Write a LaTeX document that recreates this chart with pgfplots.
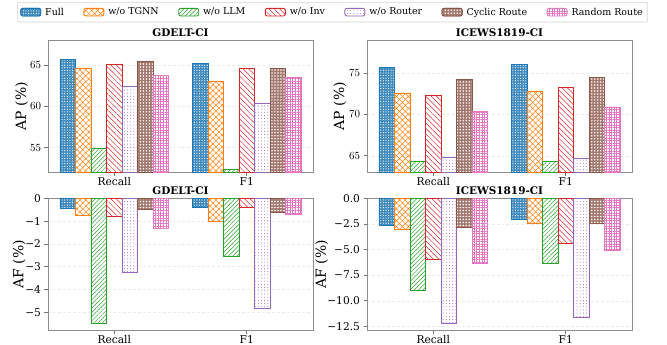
\documentclass[border=0pt]{standalone}
\usepackage{fontspec}
\setmainfont{DejaVu Serif}
\usepackage{pgfplots}
\pgfplotsset{compat=1.18}
\usetikzlibrary{patterns.meta}
\definecolor{tabblue}{HTML}{1F77B4}
\definecolor{taborange}{HTML}{FF7F0E}
\definecolor{tabgreen}{HTML}{2CA02C}
\definecolor{tabred}{HTML}{D62728}
\definecolor{tabpurple}{HTML}{9467BD}
\definecolor{tabbrown}{HTML}{8C564B}
\definecolor{tabpink}{HTML}{E377C2}
\pgfplotsset{
  sFull/.style={draw=tabblue, line width=0.9pt, fill=tabblue!85, postaction={pattern color=white, pattern={Dots[radius=0.6pt,distance=2.6pt]}}},
  sTGNN/.style={draw=taborange, line width=0.9pt, pattern color=taborange, pattern={Hatch[angle=45,distance=4.2pt,line width=0.5pt]}},
  sLLM/.style={draw=tabgreen, line width=0.9pt, pattern color=tabgreen, pattern={Lines[angle=45,distance=3pt,line width=0.5pt]}},
  sInv/.style={draw=tabred, line width=0.9pt, pattern color=tabred, pattern={Lines[angle=-45,distance=3.8pt,line width=0.5pt]}},
  sRouter/.style={draw=tabpurple, line width=0.9pt, pattern color=tabpurple, pattern={Dots[radius=0.5pt,distance=3.2pt]}},
  sCyclic/.style={draw=tabbrown, line width=0.9pt, fill=tabbrown!80, postaction={pattern color=white, pattern={Dots[radius=0.85pt,distance=3pt]}}},
  sRandom/.style={draw=tabpink, line width=0.9pt, pattern color=tabpink, pattern={Hatch[angle=0,distance=2.6pt,line width=0.45pt]}},
  panel/.style={
    scale only axis, width=265bp, height=132.3bp, anchor=north west,
    ybar, bar width=0.117, bar shift=0pt,
    xmin=-0.5, xmax=1.5, xtick={0,1}, xticklabels={Recall,F1},
    tick align=outside, tick pos=left, major tick length=3.5bp,
    every tick/.style={gray!90!black, line width=0.6pt},
    axis line style={gray!90, line width=0.8pt},
    ymajorgrids, major grid style={densely dashed, gray!15, line width=0.4pt},
    tick label style={font=\fontsize{10.7}{12}\selectfont},
    xticklabel style={yshift=1.5bp},
    title style={at={(axis description cs:0.5,1)}, anchor=base, yshift=-2.5bp, inner sep=0pt, font=\bfseries\fontsize{10.5}{12}\selectfont},
    legend image code/.code={\draw[#1] (0bp,-3.8bp) rectangle (20bp,3.8bp);},
    clip=true,
  },
  ylab/.style={every axis y label/.style={at={(axis description cs:#1,0.5)}, rotate=90, anchor=center, font=\fontsize{14}{16}\selectfont}},
}
\begin{document}
\begin{tikzpicture}
\useasboundingbox (0bp,0bp) rectangle (667bp,-345bp);
% Top-left
\begin{axis}[panel, at={(48bp,-40bp)}, title={GDELT-CI},
  ymin=52, ymax=68, ytick={55,60,65},
  ylabel={AP (\%)}, ylab=-0.099,
  legend columns=7,
  legend style={at={(axis description cs:1.0736,1.287)}, anchor=north, draw=gray!35, line width=0.6pt, rounded corners=2pt, font=\fontsize{9.5}{11}\selectfont, inner xsep=3bp, inner ysep=3.5bp, /tikz/every even column/.append style={column sep=17.5bp}, /tikz/every odd column/.append style={column sep=2bp}},
]
\addplot[sFull] coordinates {(-0.351,65.6) (0.649,65.16)};
\addplot[sTGNN] coordinates {(-0.234,64.5) (0.766,63.0)};
\addplot[sLLM] coordinates {(-0.117,54.85) (0.883,52.36)};
\addplot[sInv] coordinates {(0,65.1) (1,64.55)};
\addplot[sRouter] coordinates {(0.117,62.36) (1.117,60.37)};
\addplot[sCyclic] coordinates {(0.234,65.4) (1.234,64.55)};
\addplot[sRandom] coordinates {(0.351,63.74) (1.351,63.46)};
\legend{Full,w/o TGNN,w/o LLM,w/o Inv,w/o Router,Cyclic Route,Random Route}
\end{axis}
% Top-right
\begin{axis}[panel, at={(367bp,-40bp)}, title={ICEWS1819-CI},
  ymin=63, ymax=79, ytick={65,70,75},
  ylabel={AP (\%)}, ylab=-0.102,
]
\addplot[sFull] coordinates {(-0.351,75.65) (0.649,76.05)};
\addplot[sTGNN] coordinates {(-0.234,72.57) (0.766,72.73)};
\addplot[sLLM] coordinates {(-0.117,64.31) (0.883,64.35)};
\addplot[sInv] coordinates {(0,72.33) (1,73.3)};
\addplot[sRouter] coordinates {(0.117,64.8) (1.117,64.67)};
\addplot[sCyclic] coordinates {(0.234,74.27) (1.234,74.47)};
\addplot[sRandom] coordinates {(0.351,70.36) (1.351,70.9)};
\end{axis}
% Bottom-left
\begin{axis}[panel, at={(48bp,-198.3bp)}, height=131.7bp, title={GDELT-CI},
  ymin=-5.78, ymax=0, ytick={0,-1,-2,-3,-4,-5}, yticklabels={0,−1,−2,−3,−4,−5},
  ylabel={AF (\%)}, ylab=-0.109,
]
\addplot[sFull] coordinates {(-0.351,-0.44) (0.649,-0.41)};
\addplot[sTGNN] coordinates {(-0.234,-0.76) (0.766,-1.03)};
\addplot[sLLM] coordinates {(-0.117,-5.51) (0.883,-2.56)};
\addplot[sInv] coordinates {(0,-0.81) (1,-0.41)};
\addplot[sRouter] coordinates {(0.117,-3.25) (1.117,-4.85)};
\addplot[sCyclic] coordinates {(0.234,-0.47) (1.234,-0.63)};
\addplot[sRandom] coordinates {(0.351,-1.32) (1.351,-0.71)};
\end{axis}
% Bottom-right
\begin{axis}[panel, at={(367bp,-198.3bp)}, height=131.7bp, title={ICEWS1819-CI},
  ymin=-12.86, ymax=0, ytick={0,-2.5,-5,-7.5,-10,-12.5}, yticklabels={0.0,−2.5,−5.0,−7.5,−10.0,−12.5},
  ylabel={AF (\%)}, ylab=-0.171,
]
\addplot[sFull] coordinates {(-0.351,-2.68) (0.649,-2.02)};
\addplot[sTGNN] coordinates {(-0.234,-3.04) (0.766,-2.42)};
\addplot[sLLM] coordinates {(-0.117,-9.0) (0.883,-6.33)};
\addplot[sInv] coordinates {(0,-5.97) (1,-4.37)};
\addplot[sRouter] coordinates {(0.117,-12.24) (1.117,-11.65)};
\addplot[sCyclic] coordinates {(0.234,-2.87) (1.234,-2.48)};
\addplot[sRandom] coordinates {(0.351,-6.4) (1.351,-5.12)};
\end{axis}
\end{tikzpicture}
\end{document}
